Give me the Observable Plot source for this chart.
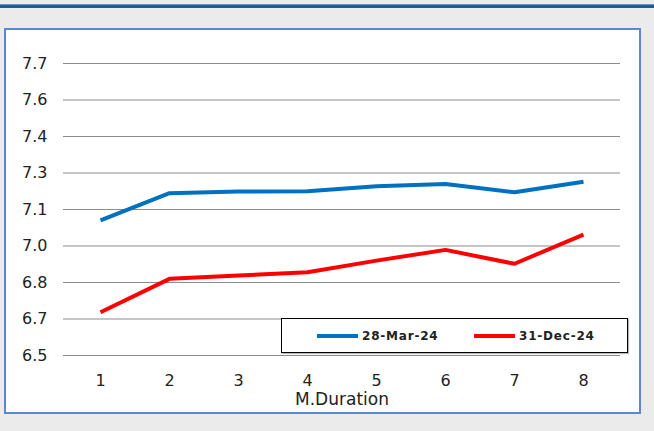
<!DOCTYPE html>
<html>
<head>
<meta charset="utf-8">
<script src="https://cdn.jsdelivr.net/npm/d3@7"></script>
<script src="https://cdn.jsdelivr.net/npm/@observablehq/plot@0.6"></script>
<style>
  html, body { margin: 0; padding: 0; background: #ebebeb; width: 654px; height: 431px; overflow: hidden; font-family: "DejaVu Sans", sans-serif; }
  #topbar { position: absolute; left: 0; top: 4px; width: 654px; height: 3px; background: #1d5b9b; border-top: 1px solid #6a95c8; }
  #box { position: absolute; left: 4px; top: 28px; width: 633px; height: 382px; background: #fff; border: 2px solid #5a88d6; }
  #chart { position: absolute; left: 0; top: 0; }
  #chart svg g[aria-label="x-axis label"] text { font-size: 17px; }
  #legend { position: absolute; left: 275px; top: 288px; width: 345px; height: 33px; border: 1px solid #000; background: #fff; box-shadow: 1px 1px 1px #bbb; }
  .item { position: absolute; top: 0; height: 33px; display: flex; align-items: center; font-size: 12px; font-weight: bold; letter-spacing: 0.8px; color: #222; }
  .swatch { display: inline-block; width: 41px; height: 4px; margin-right: 4px; }
</style>
</head>
<body>
<div id="topbar"></div>
<div id="box">
  <div id="chart"></div>
  <div id="legend"></div>
</div>
<script>
const durations = [1, 2, 3, 4, 5, 6, 7, 8];
const seriesNames = ["28-Mar-24", "31-Dec-24"];
const seriesColors = ["#0070c0", "#ff0000"];
const march24 = [7.055, 7.167, 7.174, 7.175, 7.196, 7.205, 7.171, 7.214];
const dec24 = [6.678, 6.815, 6.829, 6.842, 6.890, 6.934, 6.877, 6.997];
const yTicks = [6.5, 6.65, 6.8, 6.95, 7.1, 7.25, 7.4, 7.55, 7.7];
const yTickLabels = ["6.5", "6.7", "6.8", "7.0", "7.1", "7.3", "7.4", "7.6", "7.7"];

const rows = [];
[march24, dec24].forEach((vals, i) => {
  vals.forEach((v, j) => rows.push({d: durations[j], v, s: seriesNames[i]}));
});

const plot = Plot.plot({
  width: 633,
  height: 382,
  marginLeft: 57,
  marginRight: 19,
  marginTop: 33,
  marginBottom: 57,
  style: {fontFamily: "'DejaVu Sans', sans-serif", fontSize: "16px", color: "#222", background: "transparent"},
  x: {type: "point", domain: durations, padding: 0.5, label: "M.Duration", labelAnchor: "center", labelArrow: "none", labelOffset: 49, tickSize: 0, tickPadding: 19},
  y: {domain: [6.5, 7.7], ticks: yTicks, tickFormat: (d) => yTickLabels[yTicks.indexOf(d)], tickSize: 0, tickPadding: 16, label: null},
  color: {domain: seriesNames, range: seriesColors},
  marks: [
    Plot.ruleY(yTicks, {stroke: "#8c8c8c", strokeWidth: 1, strokeOpacity: 1}),
    Plot.line(rows, {x: "d", y: "v", stroke: "s", z: "s", strokeWidth: 4, strokeLinejoin: "round", strokeLinecap: "butt"})
  ]
});
document.getElementById("chart").appendChild(plot);

const legend = document.getElementById("legend");
const lefts = [35, 192];
seriesNames.forEach((name, i) => {
  const it = document.createElement("div");
  it.className = "item";
  it.style.left = lefts[i] + "px";
  const sw = document.createElement("span");
  sw.className = "swatch";
  sw.style.background = seriesColors[i];
  it.appendChild(sw);
  it.appendChild(document.createTextNode(name));
  legend.appendChild(it);
});
</script>
</body>
</html>
